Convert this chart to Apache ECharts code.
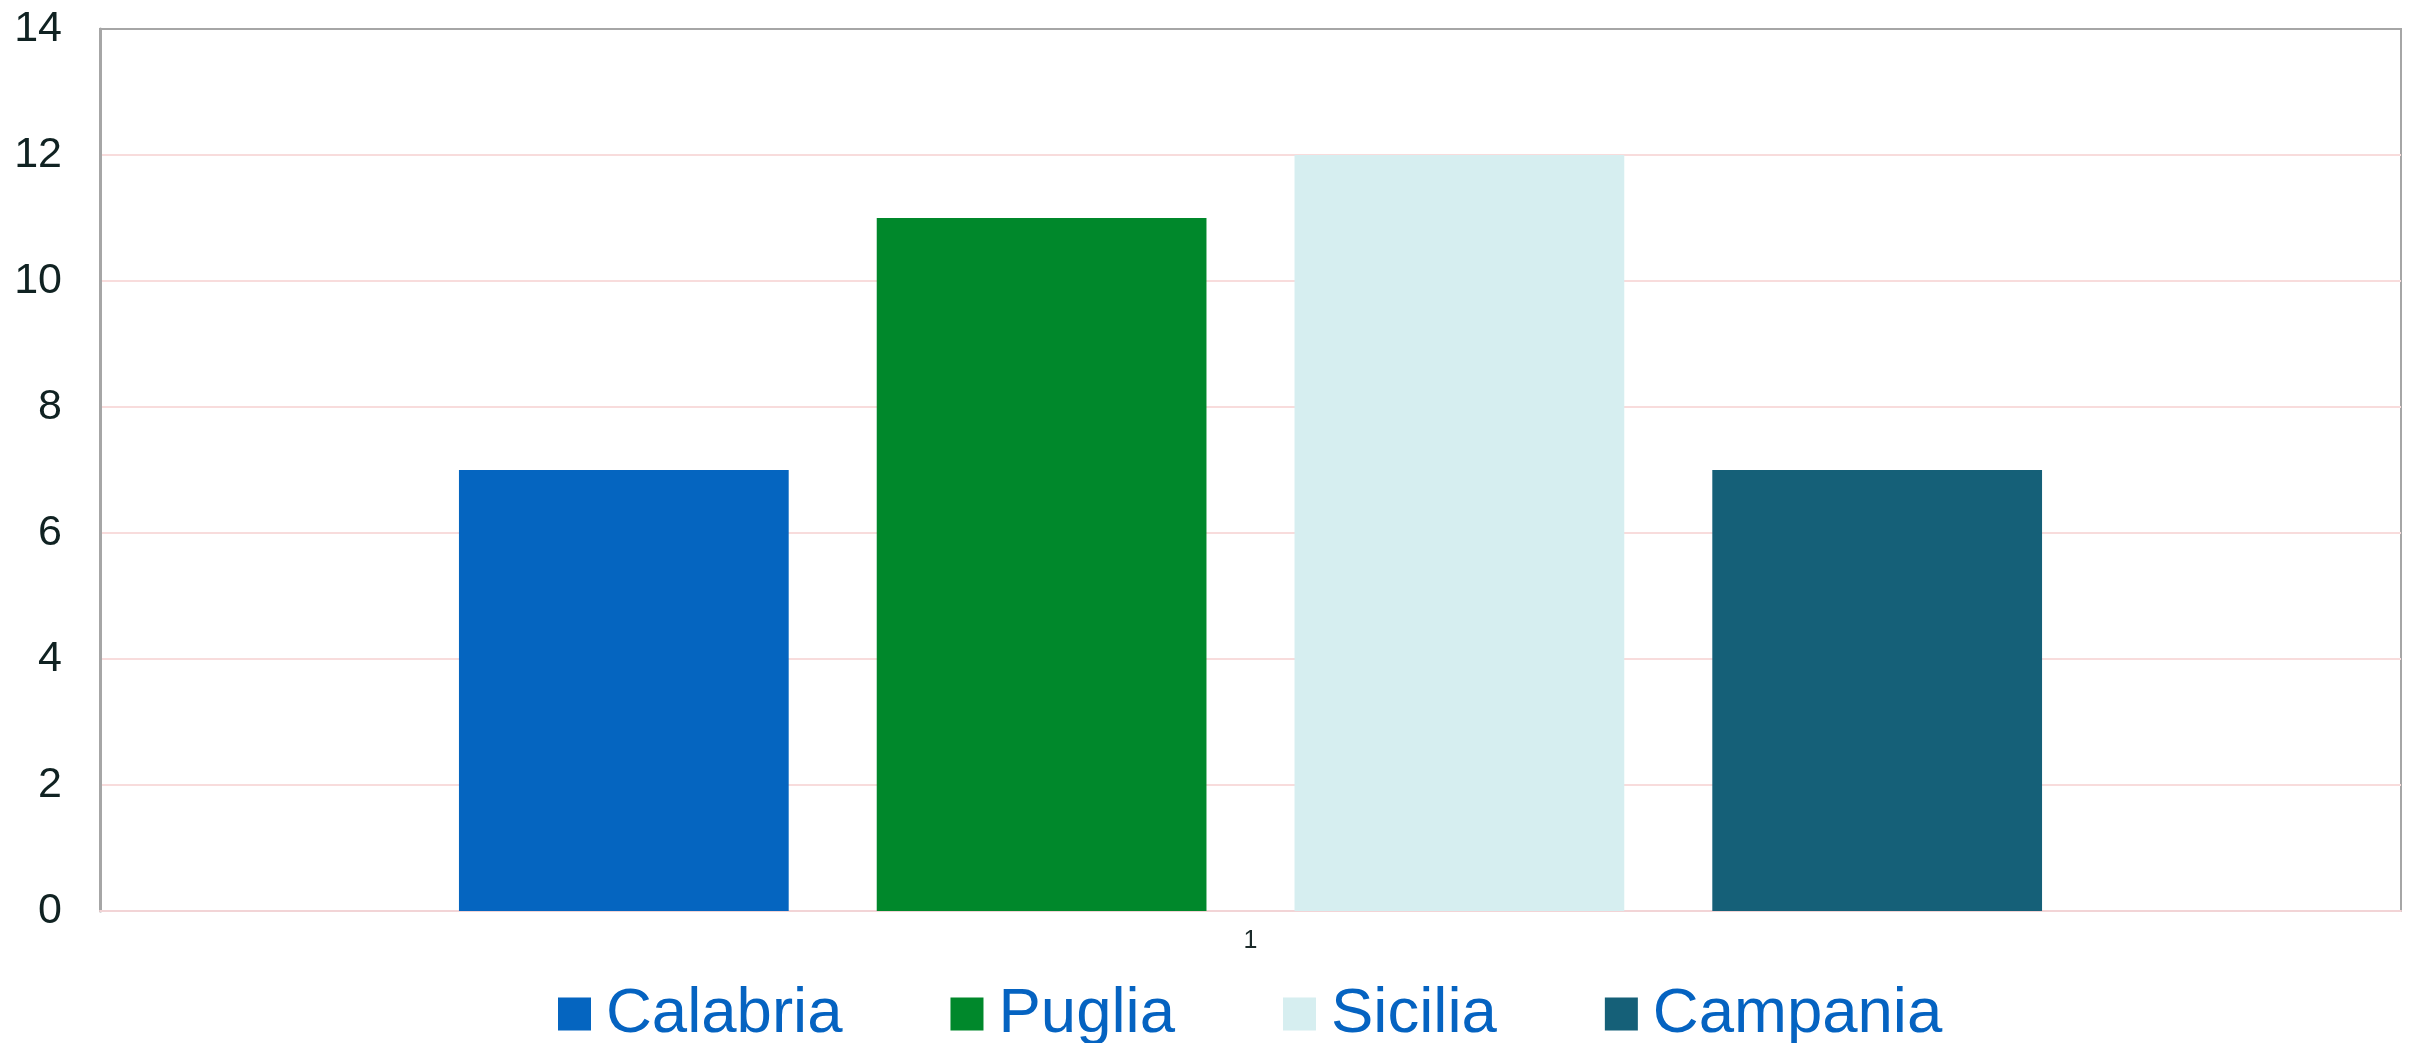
<!DOCTYPE html>
<html>
<head>
<meta charset="utf-8">
<script src="https://cdn.jsdelivr.net/npm/echarts@6/dist/echarts.min.js"></script>
<style>
html,body{margin:0;padding:0;background:#fff;}
#chart{width:2413px;height:1043px;}
</style>
</head>
<body>
<div id="chart"></div>
<script>
const categories = ['1'];
const seriesNames = ['Calabria', 'Puglia', 'Sicilia', 'Campania'];
const seriesValues = [[7], [11], [12], [7]];
const seriesColors = ['#0565C0', '#00882B', '#D6EEF0', '#156078'];
const yTicks = [0, 2, 4, 6, 8, 10, 12, 14];

const chart = echarts.init(document.getElementById('chart'));
const font = 'Liberation Sans, Arial, sans-serif';
chart.setOption({
  animation: false,
  backgroundColor: '#ffffff',
  grid: {
    left: 100, top: 29, right: 12, bottom: 132,
    show: true, borderColor: '#a6a6a6', borderWidth: 2, backgroundColor: 'transparent',
    containLabel: false
  },
  legend: {
    data: seriesNames,
    left: 553,
    top: 977,
    itemWidth: 33,
    itemHeight: 33,
    itemGap: 108,
    icon: 'rect',
    textStyle: { color: '#0563C1', fontSize: 63.5, fontFamily: font, padding: [0, 0, 0, 10] }
  },
  xAxis: {
    type: 'category',
    data: categories,
    axisLine: { show: true, lineStyle: { color: '#f2d4d6', width: 2 } },
    axisTick: { show: false },
    axisLabel: { color: '#1b2a2a', fontSize: 25, fontFamily: font, margin: 18 },
    splitLine: { show: false }
  },
  yAxis: {
    type: 'value',
    min: yTicks[0],
    max: yTicks[yTicks.length - 1],
    interval: 2,
    axisLine: { show: true, lineStyle: { color: '#a6a6a6', width: 3 } },
    axisTick: { show: false },
    axisLabel: { color: '#102222', fontSize: 43, fontFamily: font, margin: 38 },
    splitLine: { show: true, showMaxLine: false, showMinLine: false, lineStyle: { color: '#f8dcdc', width: 2 } }
  },
  series: seriesNames.map((name, i) => ({
    name: name,
    type: 'bar',
    data: seriesValues[i],
    itemStyle: { color: seriesColors[i] },
    barGap: '26.7%',
    barCategoryGap: '31.2%'
  }))
});
</script>
</body>
</html>
